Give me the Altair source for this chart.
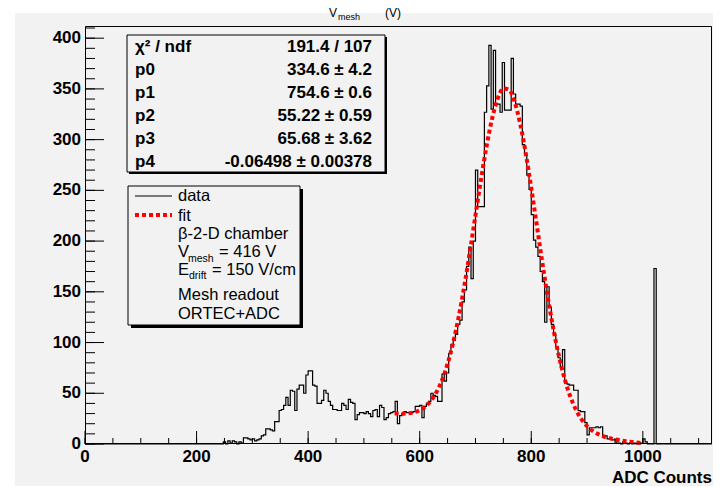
import altair as alt
import pandas as pd

# ---------------- geometry / style ----------------
W, H = 627, 418
X_MAX, Y_MAX = 1124, 412
BG = "#f2f2f2"
FONT = "Liberation Sans"

# ---------------- data ----------------
bin_width = 4
first_edge = 248
counts = [
    2, 0, 3, 1, 3, 2, 0, 2, 1, 6, 6, 5, 4,
    5, 3, 4, 5, 8, 9, 15, 15, 14, 13, 22, 22,
    33, 34, 38, 46, 38, 53, 52, 33, 54, 58, 58, 50, 68,
    72, 72, 58, 57, 40, 40, 43, 53, 50, 42, 38, 34, 34,
    33, 33, 40, 38, 34, 44, 41, 40, 24, 29, 31, 31, 30,
    32, 30, 27, 33, 34, 27, 38, 36, 24, 26, 30, 31, 32,
    42, 20, 28, 30, 32, 31, 31, 31, 32, 37, 37, 38, 26,
    37, 40, 42, 50, 48, 47, 42, 42, 69, 62, 70, 89, 98,
    102, 108, 118, 122, 140, 152, 175, 194, 163, 200, 270, 234, 234,
    234, 327, 353, 393, 330, 388, 335, 335, 327, 376, 329, 329, 329,
    380, 345, 335, 335, 333, 295, 285, 265, 251, 226, 201, 194, 185,
    170, 160, 120, 155, 135, 118, 108, 95, 85, 76, 93, 60, 59,
    58, 58, 53, 53, 33, 32, 32, 21, 9, 16, 16, 16, 17,
    16, 17, 8, 8, 5, 5, 4, 4, 1, 1, 0, 2, 1,
    0, 1, 0, 1, 0, 0, 1, 5, 2, 0, 0, 0, 173,
]

fit_x = [555, 560, 570, 580, 590, 600, 610, 620, 630, 640, 650, 660, 670, 680,
         690, 700, 710, 720, 730, 740, 750, 760, 770, 780, 790, 800, 810, 820,
         830, 840, 850, 860, 870, 880, 890, 900, 910, 920, 930, 940, 950, 960,
         970, 980, 990, 1000]
fit_y = [30.1, 30.0, 29.9, 30.2, 31.3, 33.3, 36.9, 42.6, 51.0, 62.9, 79.1, 99.9,
         125.6, 155.8, 189.6, 225.4, 261.0, 293.9, 321.2, 340.7, 350.4, 349.3,
         337.5, 316.0, 286.8, 252.3, 215.3, 178.3, 143.4, 112.3, 85.7, 63.9,
         46.8, 33.9, 24.4, 17.6, 12.9, 9.7, 7.4, 5.8, 4.6, 3.6, 2.8, 2.1, 1.4, 0.7]

y_major = list(range(0, 401, 50))
y_minor = list(range(0, 411, 10))
x_major = list(range(0, 1001, 200))
x_minor = list(range(0, 1101, 50))
x_title = "ADC Counts"

stats_labels = ["χ² / ndf", "p0", "p1", "p2", "p3", "p4"]
stats_values = ["191.4 / 107", "334.6 ± 4.2", "754.6 ± 0.6", "55.22 ± 0.59",
                "65.68 ± 3.62", "-0.06498 ± 0.00378"]

# ---------------- tables ----------------
edges = [first_edge + bin_width * i for i in range(len(counts) + 1)]
hist_df = pd.DataFrame({"x": [0] + edges + [X_MAX], "y": [0] + counts + [0, 0]})
fit_df = pd.DataFrame({"x": fit_x, "y": fit_y})
xlab_df = pd.DataFrame({"v": x_major, "t": [str(v) for v in x_major]})
ylab_df = pd.DataFrame({"v": y_major, "t": [str(v) for v in y_major]})

xs = alt.Scale(domain=[0, X_MAX], nice=False, zero=False)
ys = alt.Scale(domain=[0, Y_MAX], nice=False, zero=False)
one = pd.DataFrame({"a": [0]})

PAD_B = 42


def box(x1, y1, x2, y2, **kw):
    return alt.Chart(one).mark_rect(**kw).encode(
        x=alt.value(x1), x2=alt.value(x2), y=alt.value(y1), y2=alt.value(y2))


def label(s, x, y, size=17, weight="bold", align="left", baseline="middle"):
    return alt.Chart(pd.DataFrame({"t": [s]})).mark_text(
        align=align, baseline=baseline, font=FONT, fontSize=size,
        fontWeight=weight, color="black").encode(
        x=alt.value(x), y=alt.value(y), text="t:N")


layers = []
# white strips at top / left of the gray canvas
layers.append(box(-77, -18, W + 1, -13, color="white"))
layers.append(box(-77, -18, -70, H + PAD_B, color="white"))

# histogram
hist = alt.Chart(hist_df).mark_line(
    interpolate="step-after", color="black", strokeWidth=1.2).encode(
    x=alt.X("x:Q", scale=xs, axis=None),
    y=alt.Y("y:Q", scale=ys, axis=None),
)

# inward ticks
ymin = alt.Chart(pd.DataFrame({"v": y_minor})).mark_rule(color="black", strokeWidth=1).encode(
    y=alt.Y("v:Q", scale=ys, axis=None), x=alt.value(0), x2=alt.value(10))
ymaj = alt.Chart(pd.DataFrame({"v": y_major})).mark_rule(color="black", strokeWidth=1).encode(
    y=alt.Y("v:Q", scale=ys, axis=None), x=alt.value(0), x2=alt.value(19))
xmin = alt.Chart(pd.DataFrame({"v": x_minor})).mark_rule(color="black", strokeWidth=1).encode(
    x=alt.X("v:Q", scale=xs, axis=None), y=alt.value(H - 6), y2=alt.value(H))
xmaj = alt.Chart(pd.DataFrame({"v": x_major})).mark_rule(color="black", strokeWidth=1).encode(
    x=alt.X("v:Q", scale=xs, axis=None), y=alt.value(H - 13), y2=alt.value(H))

# tick labels (through the shared scales)
xlabels = alt.Chart(xlab_df).mark_text(
    align="center", baseline="top", font=FONT, fontSize=17, fontWeight="bold",
    color="black").encode(
    x=alt.X("v:Q", scale=xs, axis=None), y=alt.value(H + 5), text="t:N")
ylabels = alt.Chart(ylab_df).mark_text(
    align="right", baseline="middle", font=FONT, fontSize=17, fontWeight="bold",
    color="black").encode(
    y=alt.Y("v:Q", scale=ys, axis=None), x=alt.value(-4), text="t:N")

layers += [hist, ymin, ymaj, xmin, xmaj, xlabels, ylabels]
layers.append(label(x_title, W, H + 39, size=17, align="right", baseline="alphabetic"))

# fit curve
fit = alt.Chart(fit_df).mark_line(
    color="#ff0000", strokeWidth=4, strokeDash=[4, 3], interpolate="monotone").encode(
    x=alt.X("x:Q", scale=xs, axis=None), y=alt.Y("y:Q", scale=ys, axis=None))
layers.append(fit)

# stats box
layers.append(box(44, 11, 302, 148, color="black"))
layers.append(box(42, 9, 300, 146, fill=BG, stroke="black", strokeWidth=1))
for i, (lab, val) in enumerate(zip(stats_labels, stats_values)):
    yy = 21 + 23 * i
    layers.append(label(lab, 50, yy))
    layers.append(label(val, 287, yy, align="right"))

# legend box
layers.append(box(46, 163, 218, 302, color="black"))
layers.append(box(43, 160, 215, 299, fill=BG, stroke="black", strokeWidth=1))
layers.append(alt.Chart(one).mark_rule(color="black", strokeWidth=1.2).encode(
    x=alt.value(50), x2=alt.value(87), y=alt.value(170)))
layers.append(alt.Chart(one).mark_rule(color="#ff0000", strokeWidth=4, strokeDash=[4, 3]).encode(
    x=alt.value(50), x2=alt.value(87), y=alt.value(189)))
LS = 16.5
layers.append(label("data", 93, 170, size=LS, weight="normal"))
layers.append(label("fit", 93, 190, size=LS, weight="normal"))
layers.append(label("β-2-D chamber", 93, 208, size=LS, weight="normal"))
layers.append(label("V", 93, 226, size=LS, weight="normal"))
layers.append(label("mesh", 103, 232.5, size=10.5, weight="normal"))
layers.append(label("= 416 V", 134, 226, size=LS, weight="normal"))
layers.append(label("E", 93, 244, size=LS, weight="normal"))
layers.append(label("drift", 104, 250, size=10.5, weight="normal"))
layers.append(label("= 150 V/cm", 127, 244, size=LS, weight="normal"))
layers.append(label("Mesh readout", 93, 269, size=LS, weight="normal"))
layers.append(label("ORTEC+ADC", 93, 288, size=LS, weight="normal"))

# frame
layers.append(box(0.5, 0.5, W - 0.5, H - 0.5, fillOpacity=0, stroke="black", strokeWidth=1))

# small canvas title at the very top
layers.append(label("V", 244, -9, size=12, weight="normal", baseline="alphabetic"))
layers.append(label("mesh", 253, -6, size=9, weight="normal", baseline="alphabetic"))
layers.append(label("(V)", 300, -9, size=12, weight="normal", baseline="alphabetic"))

chart = alt.layer(*layers).properties(
    width=W, height=H,
    padding={"left": 77, "top": 18, "right": 1, "bottom": PAD_B},
    autosize=alt.AutoSizeParams(type="none"),
    background=BG,
).configure_view(strokeWidth=0)

chart.save("out.html", embed_options={"renderer": "svg", "actions": False})
